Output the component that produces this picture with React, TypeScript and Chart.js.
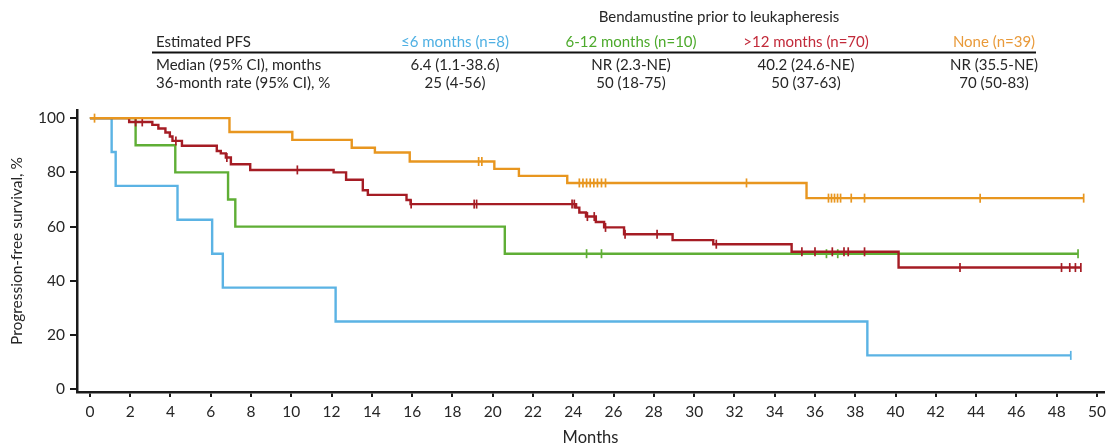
import React, { useEffect, useRef } from 'react';
import { Chart, registerables } from 'chart.js';

Chart.register(...registerables);

// ---------- Data ----------
const xTickValues = [0, 2, 4, 6, 8, 10, 12, 14, 16, 18, 20, 22, 24, 26, 28, 30, 32, 34, 36, 38, 40, 42, 44, 46, 48, 50];
const yTickValues = [0, 20, 40, 60, 80, 100];

const groupLabels = ['≤6 months (n=8)', '6-12 months (n=10)', '>12 months (n=70)', 'None (n=39)'];
const medianRow = ['6.4 (1.1-38.6)', 'NR (2.3-NE)', '40.2 (24.6-NE)', 'NR (35.5-NE)'];
const rateRow = ['25 (4-56)', '50 (18-75)', '50 (37-63)', '70 (50-83)'];

// <=6 months
const blueTimes = [0, 1.08, 1.28, 4.35, 6.07, 6.6, 12.2, 38.6, 48.7];
const blueValues = [100, 87.5, 75, 62.5, 50, 37.5, 25, 12.5, 12.5];
const blueCensor = [48.7];

// 6-12 months
const greenTimes = [0, 2.27, 4.24, 6.86, 7.22, 20.6, 49.06];
const greenValues = [100, 90, 80, 70, 60, 50, 50];
const greenCensor = [24.66, 25.4, 36.57, 37.13, 49.06];

// >12 months
const redTimes = [0, 1.95, 3.1, 3.4, 3.75, 3.97, 4.1, 4.57, 6.3, 6.5, 6.75, 7.0, 7.96, 12.1, 12.72, 13.55, 13.8, 15.72, 15.92, 24.14, 24.3, 24.63, 25.12, 25.53, 26.52, 28.93, 30.95, 34.84, 40.15, 49.2];
const redValues = [100, 98.6, 97.5, 96.2, 94.7, 93.2, 91.6, 89.8, 87.9, 87.0, 85.5, 83.0, 80.9, 80.0, 77.3, 73.4, 71.7, 69.8, 68.3, 67.0, 65.2, 63.7, 61.7, 59.7, 57.2, 55.0, 53.5, 50.7, 44.9, 44.9];
const redCensor = [2.27, 2.6, 4.27, 6.8, 10.3, 15.95, 19.08, 19.2, 23.94, 24.05, 24.7, 25.04, 25.6, 26.57, 28.16, 31.1, 35.35, 36.0, 36.86, 37.44, 37.65, 38.46, 43.2, 48.24, 48.65, 48.93, 49.2];

// None
const orangeTimes = [0, 6.93, 10.05, 13.0, 14.15, 15.88, 20.08, 21.3, 23.7, 35.58, 49.34];
const orangeValues = [100, 94.9, 92.0, 89.1, 87.3, 84.0, 81.3, 78.7, 76.1, 70.5, 70.5];
const orangeCensor = [0.23, 19.3, 19.46, 24.3, 24.48, 24.66, 24.84, 25.02, 25.2, 25.4, 25.6, 32.6, 36.67, 36.82, 36.97, 37.12, 37.27, 37.8, 38.46, 44.2, 49.34];

// ---------- Styles ----------
const BLUE = '#5bb3e4';
const GREEN = '#5fae35';
const RED = '#a51c24';
const ORANGE = '#e8961f';
const HEAD_BLUE = '#4fb0e3';
const HEAD_GREEN = '#4daa2c';
const HEAD_RED = '#c22a3a';
const HEAD_ORANGE = '#e99a3a';
const TEXT = '#262626';
const FONT = 'Lato';

function curve(times: number[], values: number[]) {
  return times.map((t, i) => ({ x: t, y: values[i] }));
}
function survivalAt(times: number[], values: number[], t: number) {
  let v = values[0];
  for (let i = 0; i < times.length; i++) {
    if (times[i] <= t + 1e-9) v = values[i];
  }
  return v;
}
function censorPoints(times: number[], values: number[], cens: number[]) {
  return cens.map((t) => ({ x: t, y: survivalAt(times, values, t) }));
}

const tablePlugin = {
  id: 'pfsTable',
  afterDraw(chart: any) {
    const ctx = chart.ctx as CanvasRenderingContext2D;
    ctx.save();
    ctx.textBaseline = 'middle';
    ctx.font = `15px ${FONT}`;
    ctx.fillStyle = TEXT;
    ctx.textAlign = 'center';
    ctx.fillText('Bendamustine prior to leukapheresis', 719, 17);

    const colX = [455, 631, 806, 994];
    const headColors = [HEAD_BLUE, HEAD_GREEN, HEAD_RED, HEAD_ORANGE];

    ctx.textAlign = 'left';
    ctx.fillStyle = TEXT;
    ctx.fillText('Estimated PFS', 156, 42);
    ctx.fillText('Median (95% CI), months', 156, 65);
    ctx.fillText('36-month rate (95% CI), %', 156, 83);

    ctx.textAlign = 'center';
    groupLabels.forEach((g, i) => {
      ctx.fillStyle = headColors[i];
      ctx.fillText(g, colX[i], 42);
      ctx.fillStyle = TEXT;
      ctx.fillText(medianRow[i], colX[i], 65);
      ctx.fillText(rateRow[i], colX[i], 83);
    });

    ctx.strokeStyle = '#111';
    ctx.lineWidth = 2;
    ctx.beginPath();
    ctx.moveTo(152, 52.5);
    ctx.lineTo(1036, 52.5);
    ctx.stroke();
    ctx.restore();
  },
};

export default function App() {
  const ref = useRef<HTMLCanvasElement | null>(null);

  useEffect(() => {
    if (!ref.current) return;
    const lineDs = (label: string, times: number[], values: number[], color: string, order: number) => ({
      type: 'line' as const,
      label,
      data: curve(times, values),
      borderColor: color,
      backgroundColor: color,
      borderWidth: 2.4,
      stepped: true,
      pointRadius: 0,
      tension: 0,
      fill: false,
      order,
    });
    const censorDs = (label: string, times: number[], values: number[], cens: number[], color: string, order: number) => ({
      type: 'line' as const,
      label,
      data: censorPoints(times, values, cens),
      showLine: false,
      borderColor: color,
      backgroundColor: color,
      pointStyle: 'line',
      pointRotation: 90,
      pointRadius: 4.5,
      pointBorderWidth: 1.7,
      pointBorderColor: color,
      order,
    });

    const chart = new Chart(ref.current, {
      type: 'line',
      data: {
        datasets: [
          lineDs('None', orangeTimes, orangeValues, ORANGE, 1),
          censorDs('None censored', orangeTimes, orangeValues, orangeCensor, ORANGE, 1),
          lineDs('>12 months', redTimes, redValues, RED, 2),
          censorDs('>12 censored', redTimes, redValues, redCensor, RED, 2),
          lineDs('6-12 months', greenTimes, greenValues, GREEN, 3),
          censorDs('6-12 censored', greenTimes, greenValues, greenCensor, GREEN, 3),
          lineDs('≤6 months', blueTimes, blueValues, BLUE, 4),
          censorDs('≤6 censored', blueTimes, blueValues, blueCensor, BLUE, 4),
        ] as any,
      },
      options: {
        animation: false,
        responsive: false,
        maintainAspectRatio: false,
        events: [],
        layout: { padding: { top: 110, left: 0, right: 0, bottom: 0 } },
        plugins: { legend: { display: false }, tooltip: { enabled: false } },
        scales: {
          x: {
            type: 'linear',
            min: -0.64,
            max: 50.35,
            afterFit: (s: any) => {
              s.height = 56;
            },
            afterBuildTicks: (s: any) => {
              s.ticks = xTickValues.map((v) => ({ value: v }));
            },
            ticks: {
              color: TEXT,
              font: { family: FONT, size: 15.5 },
              padding: 6,
              maxRotation: 0,
              autoSkip: false,
            },
            grid: { drawOnChartArea: false, drawTicks: true, tickLength: 5, color: '#1a1a1a', lineWidth: 2 },
            border: { display: true, color: '#1a1a1a', width: 2.5 },
            title: {
              display: true,
              text: 'Months',
              color: TEXT,
              font: { family: FONT, size: 16.5 },
              padding: { top: 0, bottom: 0 },
            },
          },
          y: {
            type: 'linear',
            min: -1,
            max: 103,
            afterFit: (s: any) => {
              s.width = 77;
            },
            afterBuildTicks: (s: any) => {
              s.ticks = yTickValues.map((v) => ({ value: v }));
            },
            ticks: {
              color: TEXT,
              font: { family: FONT, size: 15.5 },
              padding: 5,
            },
            grid: { drawOnChartArea: false, drawTicks: true, tickLength: 7, color: '#1a1a1a', lineWidth: 2 },
            border: { display: true, color: '#1a1a1a', width: 2.5 },
            title: {
              display: true,
              text: 'Progression-free survival, %',
              color: TEXT,
              font: { family: FONT, size: 15.5 },
              padding: { top: 8, bottom: 0 },
            },
          },
        },
      },
      plugins: [tablePlugin],
    });
    return () => chart.destroy();
  }, []);

  return (
    <div style={{ position: 'absolute', left: 0, top: 0, width: 1112, height: 448, background: '#fff' }}>
      <canvas ref={ref} width={1112} height={448} style={{ display: 'block', width: 1112, height: 448 }} />
    </div>
  );
}
